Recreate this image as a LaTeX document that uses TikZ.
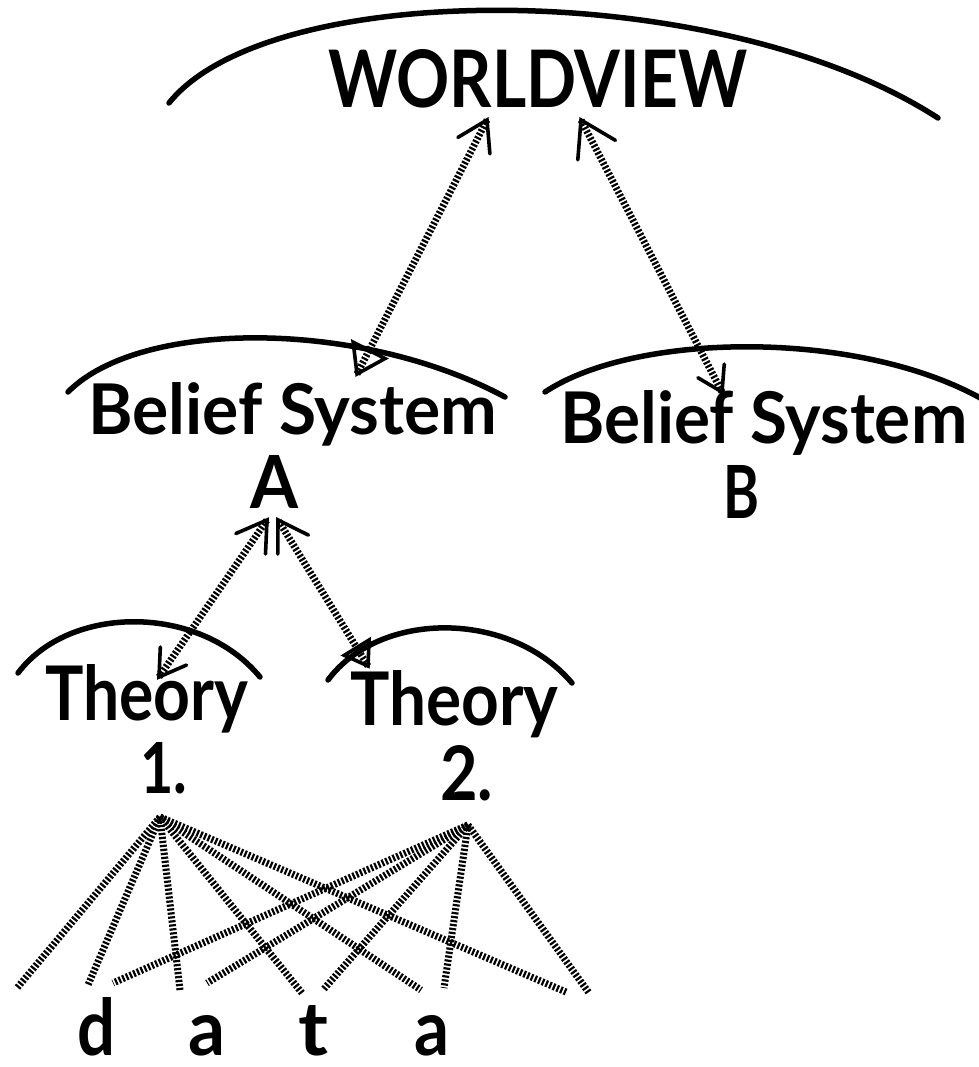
\documentclass[tikz,border=0pt]{standalone}
\usepackage{fontspec}
\setmainfont{Lato}
\usepackage{graphicx}
\usetikzlibrary{calc}
\tikzset{
  arcline/.style={line width=5.5pt, line cap=round},
  hatch/.style={line width=7pt, dash pattern=on 2.2pt off 1.8pt},
  headline/.style={line width=3.6pt, line cap=round, line join=miter},
  lbl/.style={inner sep=0pt, anchor=base west, font=\bfseries},
  datal/.style={inner sep=0pt, anchor=base, font=\bfseries},
}
\newcommand{\fitbox}[3]{\resizebox{#1}{#2}{#3}}
\newcommand{\barbhead}[3]{\draw[headline] ($(#1)!#3!32:(#2)$) -- (#1) -- ($(#1)!#3!-32:(#2)$);}
\newcommand{\trihead}[3]{\draw[headline] ($(#1)!#3!34:(#2)$) -- (#1) -- ($(#1)!#3!-34:(#2)$) -- cycle;}
\begin{document}
\begin{tikzpicture}[x=1pt,y=-1pt]
\path[use as bounding box, fill=white] (0,0) rectangle (978,1067);

% arcs
\draw[arcline] (169,103) .. controls (270,-23) and (720,-23) .. (938,118);
\draw[arcline] (68,392) .. controls (140,319) and (360,319) .. (505,397);
\draw[arcline] (545,392) .. controls (640,329) and (880,329) .. (1000,410);
\draw[arcline] (18,673) .. controls (70,604) and (200,604) .. (260,677);
\draw[arcline] (328,680) .. controls (380,610) and (510,610) .. (572,683);

% labels
\node[lbl] (wv) at (328,108) {\fitbox{419pt}{58pt}{WORLDVIEW}};
\node[lbl] (bsA) at (88,434) {\fitbox{409pt}{52pt}{Belief System}};
\node[lbl] (bsAl) at (250,508) {\fitbox{48pt}{53pt}{A}};
\node[lbl] (bsB) at (560,443) {\fitbox{407pt}{53pt}{Belief System}};
\node[lbl] (bsBl) at (723,518) {\fitbox{36pt}{53pt}{B}};
\node[lbl] (th1) at (45,720) {\fitbox{203pt}{56pt}{Theory}};
\node[lbl] (th1l) at (140,793) {\fitbox{47pt}{51pt}{1.}};
\node[lbl] (th2) at (350,725) {\fitbox{208pt}{55pt}{Theory}};
\node[lbl] (th2l) at (440,800) {\fitbox{53pt}{55pt}{2.}};

\node[datal] (d1) at (97,1055) {\fitbox{38pt}{58pt}{d}};
\node[datal] (d2) at (207,1055) {\fitbox{37pt}{40pt}{a}};
\node[datal] (d3) at (314,1055) {\fitbox{30pt}{50pt}{t}};
\node[datal] (d4) at (432,1055) {\fitbox{35pt}{40pt}{a}};

% arrow end points
\coordinate (wvA) at (487,120);
\coordinate (bsAtop) at (357,374);
\coordinate (wvB) at (581,120);
\coordinate (bsBtop) at (722,392);
\coordinate (aL) at (267,520);
\coordinate (t1top) at (159,677);
\coordinate (aR) at (278,520);
\coordinate (t2top) at (368,666);

\draw[hatch] (bsAtop) -- (wvA);
\barbhead{wvA}{bsAtop}{34pt}
\trihead{bsAtop}{wvA}{32pt}

\draw[hatch] (bsBtop) -- (wvB);
\barbhead{wvB}{bsBtop}{40pt}
\barbhead{bsBtop}{wvB}{28pt}

\draw[hatch] (t1top) -- (aL);
\barbhead{aL}{t1top}{34pt}
\barbhead{t1top}{aL}{30pt}

\draw[hatch] (t2top) -- (aR);
\barbhead{aR}{t2top}{34pt}
\trihead{t2top}{aR}{26pt}

% data connectors
\coordinate (s1) at (160,817);
\coordinate (s2) at (468,825);
\foreach \x/\y [count=\i] in {17/988,88/985,180/990,302/993,421/990,566/992}
  {\coordinate (e1\i) at (\x,\y); \draw[hatch] (s1) -- (e1\i);}
\foreach \x/\y [count=\i] in {113/983,207/983,323/990,444/988,589/993}
  {\coordinate (e2\i) at (\x,\y); \draw[hatch] (s2) -- (e2\i);}
\end{tikzpicture}
\end{document}
